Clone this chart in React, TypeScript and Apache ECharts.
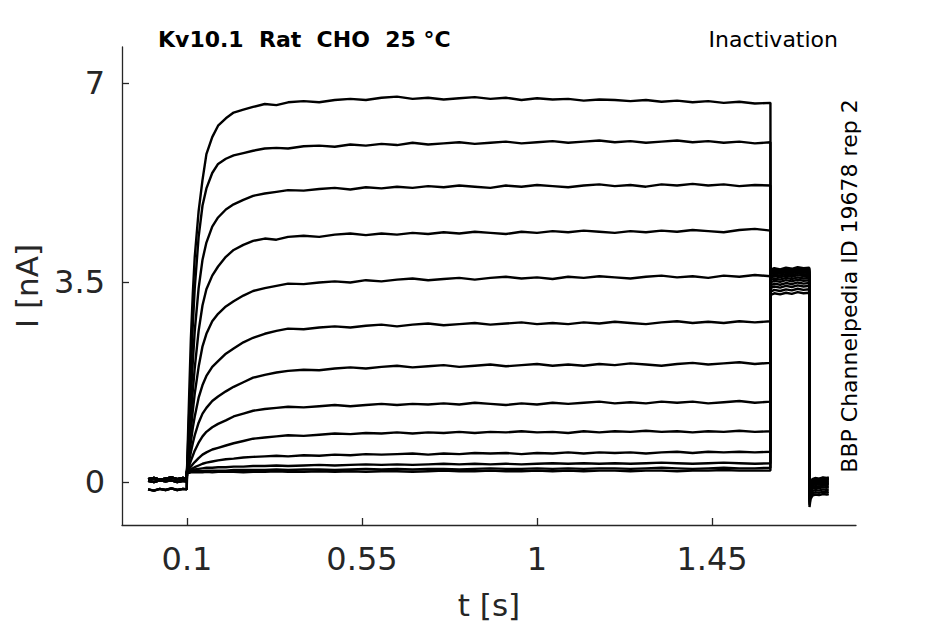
import React, { useEffect, useRef } from "react";
import * as echarts from "echarts";

// time grid of the prepulse (s)
const T = [
  0.1, 0.103, 0.106, 0.11, 0.115, 0.12, 0.13,
  0.14, 0.15, 0.165, 0.18, 0.2, 0.22, 0.245,
  0.27, 0.3, 0.33, 0.36, 0.4, 0.44, 0.48,
  0.52, 0.56, 0.6, 0.64, 0.68, 0.72, 0.76,
  0.8, 0.84, 0.88, 0.92, 0.96, 1.0, 1.04,
  1.08, 1.12, 1.16, 1.2, 1.24, 1.28, 1.32,
  1.36, 1.4, 1.44, 1.48, 1.52, 1.56, 1.6,
];

const TR1 = [
  0.18, 0.9, 1.6, 2.5, 3.3, 3.95, 4.75,
  5.3, 5.75, 6.05, 6.25, 6.38, 6.48, 6.53,
  6.58, 6.63, 6.61, 6.66, 6.68, 6.66, 6.7,
  6.72, 6.7, 6.74, 6.76, 6.72, 6.74, 6.71,
  6.73, 6.75, 6.72, 6.74, 6.7, 6.73, 6.71,
  6.72, 6.69, 6.71, 6.7, 6.68, 6.7, 6.67,
  6.69, 6.66, 6.68, 6.65, 6.67, 6.64, 6.65,
];
const TR2 = [
  0.18, 0.7, 1.25, 1.95, 2.75, 3.4, 4.3,
  4.85, 5.15, 5.42, 5.58, 5.67, 5.73, 5.77,
  5.81, 5.85, 5.86, 5.85, 5.89, 5.9, 5.88,
  5.92, 5.9, 5.93, 5.91, 5.95, 5.92, 5.94,
  5.96, 5.93, 5.95, 5.97, 5.94, 5.96, 5.98,
  5.95, 5.97, 5.99, 5.96, 5.98, 5.95, 5.97,
  5.99, 5.96, 5.98, 5.95, 5.97, 5.94, 5.96,
];
const TR3 = [
  0.18, 0.55, 0.95, 1.5, 2.1, 2.65, 3.4,
  3.9, 4.2, 4.48, 4.64, 4.78, 4.87, 4.95,
  5.02, 5.06, 5.09, 5.12, 5.11, 5.14, 5.16,
  5.13, 5.17, 5.15, 5.18, 5.16, 5.19, 5.17,
  5.2, 5.18, 5.16, 5.2, 5.18, 5.21, 5.19,
  5.17, 5.2, 5.22, 5.19, 5.21, 5.18, 5.22,
  5.2, 5.23, 5.2, 5.22, 5.19, 5.21, 5.2,
];
const TR4 = [
  0.18, 0.45, 0.75, 1.15, 1.6, 2.0, 2.65,
  3.1, 3.38, 3.62, 3.78, 3.95, 4.07, 4.16,
  4.23, 4.27, 4.25, 4.3, 4.32, 4.3, 4.34,
  4.36, 4.33, 4.36, 4.34, 4.37, 4.35, 4.38,
  4.36, 4.39, 4.37, 4.35, 4.39, 4.37, 4.4,
  4.38, 4.41, 4.39, 4.37, 4.4, 4.38, 4.41,
  4.39, 4.42, 4.4, 4.38, 4.42, 4.44, 4.41,
];
const TR5 = [
  0.18, 0.38, 0.6, 0.9, 1.25, 1.55, 2.02,
  2.38, 2.6, 2.82, 2.95, 3.08, 3.17, 3.27,
  3.35, 3.4, 3.44, 3.48, 3.47, 3.5, 3.52,
  3.5, 3.54, 3.52, 3.55, 3.57, 3.54, 3.56,
  3.58, 3.55, 3.58, 3.6, 3.57, 3.59, 3.56,
  3.6, 3.58, 3.61, 3.59, 3.57, 3.6, 3.62,
  3.59, 3.61, 3.58, 3.62, 3.6, 3.63, 3.61,
];
const TR6 = [
  0.18, 0.32, 0.48, 0.7, 0.95, 1.15, 1.48,
  1.7, 1.86, 2.02, 2.12, 2.25, 2.34, 2.45,
  2.53, 2.6, 2.65, 2.69, 2.68, 2.71, 2.73,
  2.71, 2.74, 2.76, 2.73, 2.76, 2.78, 2.75,
  2.77, 2.79, 2.76, 2.78, 2.8, 2.77, 2.79,
  2.77, 2.8, 2.78, 2.81, 2.79, 2.77, 2.8,
  2.82, 2.79, 2.81, 2.79, 2.82, 2.8, 2.82,
];
const TR7 = [
  0.18, 0.27, 0.38, 0.52, 0.68, 0.82, 1.04,
  1.2, 1.3, 1.42, 1.5, 1.59, 1.67, 1.75,
  1.83, 1.88, 1.92, 1.95, 1.97, 1.96, 1.99,
  2.01, 1.99, 2.02, 2.04, 2.01, 2.03, 2.05,
  2.02, 2.04, 2.06, 2.03, 2.05, 2.07, 2.04,
  2.06, 2.04, 2.07, 2.05, 2.08, 2.06, 2.04,
  2.07, 2.09, 2.06, 2.08, 2.1, 2.07, 2.09,
];
const TR8 = [
  0.18, 0.23, 0.29, 0.37, 0.46, 0.55, 0.69,
  0.8, 0.88, 0.96, 1.02, 1.08, 1.15, 1.2,
  1.25, 1.28, 1.3, 1.32, 1.31, 1.33, 1.35,
  1.33, 1.35, 1.37, 1.35, 1.37, 1.36, 1.38,
  1.36, 1.39, 1.37, 1.35, 1.38, 1.36, 1.39,
  1.37, 1.39, 1.41, 1.38, 1.4, 1.38, 1.41,
  1.39, 1.41, 1.38, 1.4, 1.42, 1.39, 1.41,
];
const TR9 = [
  0.18, 0.2, 0.23, 0.27, 0.31, 0.35, 0.42,
  0.48, 0.52, 0.57, 0.6, 0.64, 0.68, 0.72,
  0.76, 0.78, 0.8, 0.82, 0.81, 0.83, 0.85,
  0.84, 0.86, 0.85, 0.87, 0.85, 0.87, 0.86,
  0.88, 0.86, 0.88, 0.87, 0.89, 0.87, 0.88,
  0.86, 0.89, 0.87, 0.89, 0.88, 0.9, 0.88,
  0.89, 0.87, 0.89, 0.88, 0.9, 0.88, 0.89,
];
const TR10 = [
  0.18, 0.19, 0.2, 0.22, 0.24, 0.26, 0.29,
  0.32, 0.34, 0.36, 0.38, 0.4, 0.41, 0.43,
  0.44, 0.45, 0.46, 0.45, 0.47, 0.46, 0.48,
  0.47, 0.49, 0.48, 0.49, 0.5, 0.48, 0.5,
  0.49, 0.51, 0.5, 0.51, 0.49, 0.51, 0.5,
  0.52, 0.5, 0.52, 0.51, 0.52, 0.5, 0.52,
  0.53, 0.51, 0.53, 0.52, 0.53, 0.52, 0.53,
];
const TR11 = [
  0.18, 0.18, 0.19, 0.2, 0.21, 0.22, 0.23,
  0.24, 0.25, 0.25, 0.26, 0.26, 0.27, 0.27,
  0.28, 0.28, 0.29, 0.28, 0.29, 0.3, 0.29,
  0.3, 0.31, 0.3, 0.31, 0.3, 0.31, 0.32,
  0.31, 0.32, 0.31, 0.32, 0.31, 0.32, 0.33,
  0.32, 0.33, 0.32, 0.33, 0.32, 0.33, 0.34,
  0.33, 0.32, 0.33, 0.34, 0.33, 0.32, 0.33,
];
const TR12 = [
  0.17, 0.17, 0.18, 0.18, 0.18, 0.19, 0.19,
  0.19, 0.2, 0.2, 0.2, 0.2, 0.21, 0.21,
  0.21, 0.21, 0.22, 0.21, 0.22, 0.22, 0.21,
  0.22, 0.23, 0.22, 0.23, 0.22, 0.23, 0.23,
  0.22, 0.23, 0.24, 0.23, 0.23, 0.24, 0.23,
  0.24, 0.23, 0.24, 0.24, 0.23, 0.24, 0.25,
  0.24, 0.23, 0.24, 0.25, 0.24, 0.24, 0.25,
];
const TR13 = [
  0.16, 0.16, 0.16, 0.17, 0.17, 0.17, 0.17,
  0.17, 0.18, 0.17, 0.18, 0.18, 0.18, 0.17,
  0.18, 0.18, 0.19, 0.18, 0.18, 0.19, 0.18,
  0.19, 0.18, 0.19, 0.19, 0.18, 0.19, 0.2,
  0.19, 0.19, 0.2, 0.19, 0.19, 0.2, 0.19,
  0.2, 0.19, 0.2, 0.2, 0.19, 0.2, 0.2,
  0.19, 0.2, 0.2, 0.21, 0.2, 0.2, 0.2,
];
const TRACES = [TR1, TR2, TR3, TR4, TR5, TR6, TR7, TR8, TR9, TR10, TR11, TR12, TR13];

// holding before the prepulse
const PRE_T = [0, 0.015, 0.03, 0.045, 0.06, 0.075, 0.09, 0.0995];
const PRE_HIGH = [0.05, 0.07, 0.04, 0.06, 0.08, 0.05, 0.07, 0.06];
const PRE_MID = [0.02, 0.0, 0.03, 0.01, 0.03, 0.0, 0.02, 0.01];
const PRE_LOW = [-0.13, -0.15, -0.12, -0.14, -0.11, -0.14, -0.12, -0.13];
const PRE_LEVELS = [PRE_HIGH, PRE_MID, PRE_LOW];
const PRE_GROUP = [2, 2, 2, 1, 1, 1, 1, 0, 0, 0, 0, 0, 0];

// test pulse
const TEST_T = [1.6005, 1.61, 1.625, 1.64, 1.655, 1.67, 1.685, 1.7];
const TEST = [
  [3.28, 3.31, 3.29, 3.32, 3.3, 3.33, 3.31, 3.32],
  [3.34, 3.37, 3.35, 3.38, 3.36, 3.39, 3.37, 3.38],
  [3.4, 3.43, 3.41, 3.44, 3.42, 3.45, 3.43, 3.44],
  [3.45, 3.48, 3.46, 3.49, 3.47, 3.5, 3.48, 3.49],
  [3.5, 3.53, 3.51, 3.54, 3.52, 3.55, 3.53, 3.54],
  [3.54, 3.57, 3.55, 3.58, 3.56, 3.59, 3.57, 3.58],
  [3.58, 3.61, 3.59, 3.62, 3.6, 3.63, 3.61, 3.62],
  [3.61, 3.64, 3.62, 3.65, 3.63, 3.66, 3.64, 3.65],
  [3.64, 3.67, 3.65, 3.68, 3.66, 3.69, 3.67, 3.68],
  [3.66, 3.69, 3.67, 3.7, 3.68, 3.71, 3.69, 3.7],
  [3.68, 3.71, 3.69, 3.72, 3.7, 3.73, 3.71, 3.72],
  [3.7, 3.73, 3.71, 3.74, 3.72, 3.75, 3.73, 3.74],
  [3.72, 3.75, 3.73, 3.76, 3.74, 3.77, 3.75, 3.76],
];

// tail after the test pulse
const TAIL_T = [1.7005, 1.703, 1.708, 1.715, 1.725, 1.735, 1.745, 1.75];
const TAIL = [
  [-0.44, -0.3, -0.24, -0.22, -0.23, -0.21, -0.22, -0.21],
  [-0.4, -0.26, -0.2, -0.18, -0.19, -0.17, -0.18, -0.17],
  [-0.36, -0.22, -0.16, -0.14, -0.15, -0.13, -0.14, -0.13],
  [-0.33, -0.18, -0.12, -0.1, -0.11, -0.09, -0.1, -0.09],
  [-0.3, -0.15, -0.09, -0.07, -0.08, -0.06, -0.07, -0.06],
  [-0.28, -0.12, -0.06, -0.04, -0.05, -0.03, -0.04, -0.03],
  [-0.26, -0.1, -0.04, -0.02, -0.03, -0.01, -0.02, -0.01],
  [-0.24, -0.08, -0.02, 0.0, -0.01, 0.01, 0.0, 0.01],
  [-0.22, -0.06, 0.0, 0.02, 0.01, 0.03, 0.02, 0.03],
  [-0.2, -0.04, 0.02, 0.04, 0.03, 0.05, 0.04, 0.05],
  [-0.18, -0.03, 0.03, 0.05, 0.04, 0.06, 0.05, 0.06],
  [-0.16, -0.02, 0.04, 0.06, 0.05, 0.07, 0.06, 0.07],
  [-0.15, -0.01, 0.05, 0.07, 0.06, 0.08, 0.07, 0.08],
];

const X_TICKS = [0.1, 0.55, 1, 1.45];
const Y_TICKS = [0, 3.5, 7];

const TITLE = "Kv10.1  Rat  CHO  25 °C";
const PROTOCOL = "Inactivation";
const SOURCE = "BBP Channelpedia ID 19678 rep 2";

const FONT = "DejaVu Sans";
const AX = "#262626";

export default function App() {
  const ref = useRef<HTMLDivElement>(null);
  useEffect(() => {
    document.body.style.margin = "0";
    if (!ref.current) return;
    const chart = echarts.init(ref.current, undefined, { renderer: "svg" });

    const series = TRACES.map((vals, i) => {
      const pre = PRE_LEVELS[PRE_GROUP[i]];
      const data: number[][] = [];
      PRE_T.forEach((t, j) => data.push([t, pre[j]]));
      T.forEach((t, j) => data.push([t, vals[j]]));
      TEST_T.forEach((t, j) => data.push([t, TEST[i][j]]));
      TAIL_T.forEach((t, j) => data.push([t, TAIL[i][j]]));
      return {
        type: "line",
        data,
        showSymbol: false,
        silent: true,
        lineStyle: { color: "#000", width: 2.4 },
      };
    });

    chart.setOption({
      animation: false,
      backgroundColor: "#fff",
      grid: { left: 122, right: 89, top: 47, bottom: 99, containLabel: false, outerBoundsMode: "none" },
      xAxis: {
        type: "value",
        min: -0.067,
        max: 1.82,
        name: "t [s]",
        nameLocation: "middle",
        nameGap: 64,
        nameTextStyle: { fontFamily: FONT, fontSize: 31, color: AX },
        axisLine: { show: true, onZero: false, lineStyle: { color: AX, width: 1.3 } },
        axisTick: { show: true, inside: true, length: 7, customValues: X_TICKS, lineStyle: { color: AX, width: 1.3 } },
        axisLabel: { customValues: X_TICKS, fontFamily: FONT, fontSize: 32, color: AX, margin: 18 },
        splitLine: { show: false },
      },
      yAxis: {
        type: "value",
        min: -0.754,
        max: 7.63,
        name: "I [nA]",
        nameLocation: "middle",
        nameGap: 80,
        nameRotate: 90,
        nameTextStyle: { fontFamily: FONT, fontSize: 31, color: AX },
        axisLine: { show: true, onZero: false, lineStyle: { color: AX, width: 1.3 } },
        axisTick: { show: true, inside: true, length: 7, customValues: Y_TICKS, lineStyle: { color: AX, width: 1.3 } },
        axisLabel: { customValues: Y_TICKS, fontFamily: FONT, fontSize: 32, color: AX, margin: 17 },
        splitLine: { show: false },
      },
      graphic: [
        {
          type: "text",
          left: 158,
          top: 28,
          style: { text: TITLE, fontFamily: FONT, fontSize: 22, fontWeight: "bold", fill: "#000" },
        },
        {
          type: "text",
          x: 838,
          y: 39,
          style: { text: PROTOCOL, fontFamily: FONT, fontSize: 22, fill: "#000", align: "right", verticalAlign: "middle" },
        },
        {
          type: "text",
          x: 849,
          y: 286,
          rotation: Math.PI / 2,
          style: { text: SOURCE, fontFamily: FONT, fontSize: 22, fill: "#000", align: "center", verticalAlign: "middle" },
        },
      ],
      series,
    });
    return () => chart.dispose();
  }, []);
  return <div ref={ref} style={{ width: 945, height: 624 }} />;
}
